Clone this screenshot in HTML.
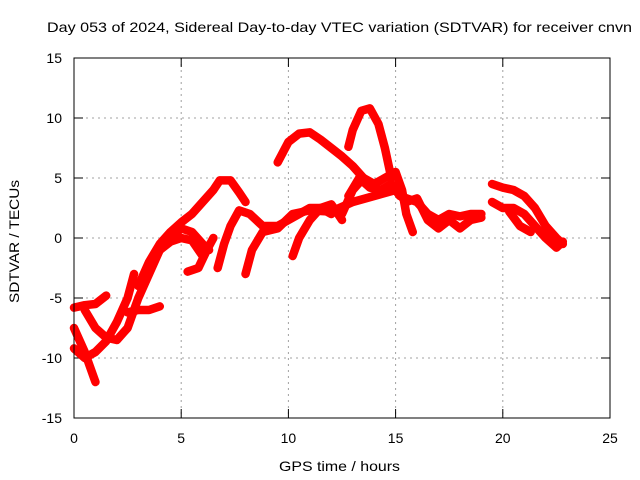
<!DOCTYPE html>
<html><head><meta charset="utf-8"><style>
body{margin:0;background:#fff}
svg{display:block;font-family:"Liberation Sans",sans-serif;font-size:14px}
</style></head><body>
<svg id="chart" width="640" height="480">
<text x="47" y="32" textLength="585" lengthAdjust="spacingAndGlyphs">Day 053 of 2024, Sidereal Day-to-day VTEC variation (SDTVAR) for receiver cnvn</text>
<text x="279" y="471" textLength="121" lengthAdjust="spacingAndGlyphs">GPS time / hours</text>
<text transform="translate(19,303) rotate(-90)" textLength="123" lengthAdjust="spacingAndGlyphs">SDTVAR / TECUs</text>
<g id="grid"></g>
<g id="ticks"></g>
<g id="marks"></g>
<rect x="74" y="58" width="536" height="360" fill="none" stroke="#000"/>
</svg>
<script>
const xTicks=[0,5,10,15,20,25];
const yTicks=[-15,-10,-5,0,5,10,15];
const t1=[[0,-5.8],[0.5,-5.6],[1,-5.5],[1.5,-4.8]];
const t2=[[0,-7.5],[0.5,-9.5],[0.8,-11],[1,-12]];
const t3=[[0,-9.2],[0.5,-10],[1,-9.5],[1.5,-8.6],[2,-7],[2.5,-5],[2.8,-3]];
const t4=[[0.5,-6],[1,-7.5],[1.5,-8.3],[2,-8.5],[2.5,-7.5],[3,-5],[3.5,-3],[4,-1],[4.5,0],[5,0.8],[5.5,0.5],[6,-0.5],[6.3,-1]];
const t5=[[2.5,-6.2],[3,-6],[3.5,-6],[4,-5.7]];
const t6=[[3,-4],[3.5,-2],[4,-0.5],[4.5,0.5],[5,1.3],[5.5,2],[6,3],[6.5,4],[6.8,4.8],[7.3,4.8],[7.7,3.8],[8,3]];
const t7=[[3.3,-3],[4,-1],[4.5,-0.3],[5,0],[5.5,-0.2],[6,-1.5]];
const t8=[[5.3,-2.8],[5.8,-2.5],[6.2,-1],[6.5,0]];
const t9=[[6.7,-2.5],[7,-0.5],[7.3,1],[7.7,2.3],[8.2,2],[8.8,1],[9.5,1],[10,1.5],[10.5,2],[11,2.5],[11.5,2.5],[12,2]];
const t10=[[8,-3],[8.3,-1],[8.8,0.5],[9.5,0.8],[10.2,2],[11,2.3],[12,2.2],[13,3],[14,3.5],[15,4],[15.5,3]];
const t11=[[9.5,6.3],[10,8],[10.5,8.7],[11,8.8],[11.5,8.2],[12,7.5],[12.5,6.8],[13,6],[13.5,5]];
const t12=[[10.2,-1.5],[10.5,0],[11,1.5],[11.5,2.5],[12,2.8],[12.2,2.3],[12.5,1.5]];
const t13=[[12.8,7.6],[13,9],[13.4,10.6],[13.8,10.8],[14.2,9.5],[14.5,7.5],[14.8,5]];
const t14=[[12.5,2],[13,4],[13.5,5],[14,4.5],[14.5,5],[15,5.5],[15.3,4],[15.5,2],[15.8,0.5]];
const t15=[[12.8,3.5],[13.3,5],[13.8,4.2],[14.3,4],[14.8,4.5],[15.2,3.5],[16,3],[16.5,2],[17,1.5],[17.5,2],[18,1.8],[18.5,2],[19,2]];
const t16=[[15.5,3],[16,3.3],[16.5,1.5],[17,0.8],[17.5,1.5],[18,0.8],[18.5,1.5],[19,1.7]];
const t17=[[19.5,4.5],[20,4.2],[20.5,4],[21,3.5],[21.5,2.5],[22,1],[22.5,0],[22.8,-0.5]];
const t18=[[19.5,3],[20,2.5],[20.5,2.5],[21,2],[21.5,1],[22,0],[22.5,-0.8],[22.8,-0.3]];
const t19=[[20.3,2.2],[20.8,1],[21.3,0.5]];
const tracks=[t1,t2,t3,t4,t5,t6,t7,t8,t9,t10,t11,t12,t13,t14,t15,t16,t17,t18,t19];
const NS="http://www.w3.org/2000/svg";
const X=v=>74+v*536/25, Y=v=>238-v*12;
const grid=document.getElementById('grid'),ticks=document.getElementById('ticks'),marks=document.getElementById('marks');
function mk(tag,attrs,parent){const e=document.createElementNS(NS,tag);for(const k in attrs)e.setAttribute(k,attrs[k]);parent.appendChild(e);return e;}
xTicks.forEach(v=>{
  if(v>0&&v<25){const l=mk('line',{x1:X(v),x2:X(v),y1:58,y2:418,stroke:'#a0a0a0','stroke-dasharray':'2,4'},grid);
  
  }
  mk('line',{x1:X(v),x2:X(v),y1:418,y2:409,stroke:'#000'},ticks);
  mk('line',{x1:X(v),x2:X(v),y1:58,y2:67,stroke:'#000'},ticks);
  const t=mk('text',{x:X(v),y:443,'text-anchor':'middle'},ticks);t.textContent=v;
  
  
});
yTicks.forEach(v=>{
  if(v>-15&&v<15){const l=mk('line',{x1:74,x2:610,y1:Y(v),y2:Y(v),stroke:'#a0a0a0','stroke-dasharray':'2,4'},grid);
  
  }
  mk('line',{x1:74,x2:83,y1:Y(v),y2:Y(v),stroke:'#000'},ticks);
  mk('line',{x1:601,x2:610,y1:Y(v),y2:Y(v),stroke:'#000'},ticks);
  const t=mk('text',{x:62,y:Y(v)+5,'text-anchor':'end'},ticks);t.textContent=v;
  
  
});
tracks.forEach(tr=>{
  const p=mk('polyline',{points:tr.map(d=>X(d[0])+','+Y(d[1])).join(' '),fill:'none',stroke:'#f00','stroke-width':8.5,'stroke-linejoin':'round','stroke-linecap':'round'},marks);
  
  
  tr.forEach(d=>{
    const x=X(d[0]),y=Y(d[1]);
    const m=mk('path',{d:`M${x-4},${y}H${x+4}M${x},${y-4}V${y+4}`,stroke:'#f00','stroke-width':1.2},marks);
    
    
  });
});
</script>
</body></html>
